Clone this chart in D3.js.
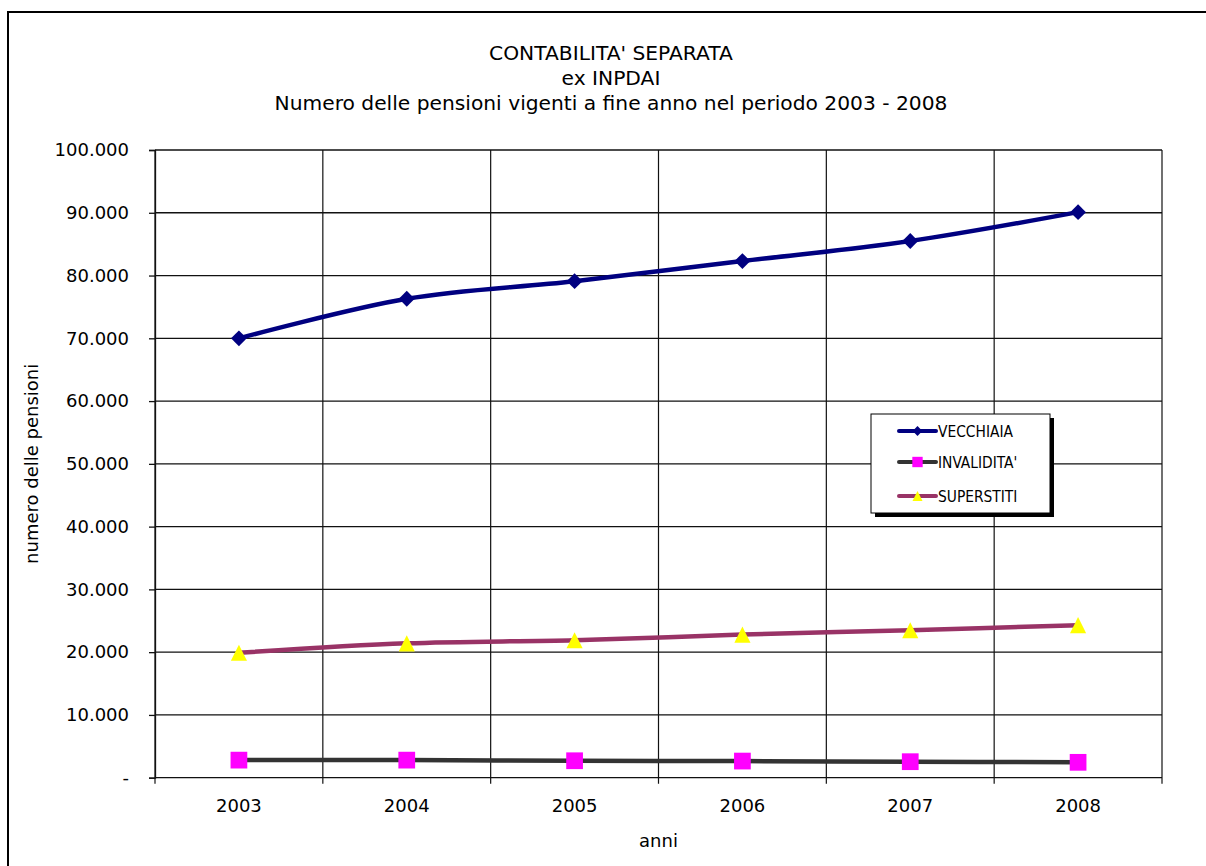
<!DOCTYPE html>
<html>
<head>
<meta charset="utf-8">
<script src="https://cdn.jsdelivr.net/npm/d3@7"></script>
<style>
  body { margin: 0; background: #fff; }
  svg { display: block; font-family: "DejaVu Sans", Verdana, sans-serif; }
</style>
</head>
<body>
<svg id="chart" width="1206" height="866"></svg>
<script>
// dati
const anni = ["2003", "2004", "2005", "2006", "2007", "2008"];
const vecchiaia = [70000, 76300, 79100, 82300, 85500, 90100];
const invalidita = [2800, 2800, 2700, 2650, 2550, 2450];
const superstiti = [19900, 21400, 21900, 22800, 23500, 24300];
const yTicks = [0, 10000, 20000, 30000, 40000, 50000, 60000, 70000, 80000, 90000, 100000];
const titolo = ["CONTABILITA' SEPARATA", "ex INPDAI",
  "Numero delle pensioni vigenti a fine anno nel periodo 2003 - 2008"];

const serie = [
  { nome: "VECCHIAIA", valori: vecchiaia, linea: "#000080", marker: "diamond", fill: "#000080" },
  { nome: "INVALIDITA'", valori: invalidita, linea: "#333333", marker: "square", fill: "#ff00ff" },
  { nome: "SUPERSTITI", valori: superstiti, linea: "#993366", marker: "triangle", fill: "#ffff00" }
];

const svg = d3.select("#chart");
const margin = { top: 150, right: 44, bottom: 88, left: 155 };
const W = 1206, H = 866;
const x0 = margin.left, x1 = W - margin.right;
const yBottom = 777.7, yTop = margin.top;

// cornice esterna
svg.append("rect")
  .attr("x", 8).attr("y", 12)
  .attr("width", 1220).attr("height", 900)
  .attr("fill", "none").attr("stroke", "#000").attr("stroke-width", 2);

// scale
const x = d3.scaleBand().domain(anni).range([x0, x1]);
const y = d3.scaleLinear().domain([0, 100000]).range([yBottom, yTop]);

// formato italiano: 10.000, zero come "-"
const it = d3.formatLocale({ decimal: ",", thousands: ".", grouping: [3], currency: ["€", ""] });
const fmt = it.format(",.0f");

// griglia orizzontale
svg.append("g").selectAll("line")
  .data(yTicks)
  .join("line")
  .attr("x1", x0).attr("x2", x1)
  .attr("y1", d => y(d)).attr("y2", d => y(d))
  .attr("stroke", "#111").attr("stroke-width", 1.3);

// griglia verticale ai bordi delle categorie
const bordi = anni.map(a => x(a)).concat([x1]);
svg.append("g").selectAll("line")
  .data(bordi)
  .join("line")
  .attr("x1", d => d).attr("x2", d => d)
  .attr("y1", yTop).attr("y2", yBottom + 6)
  .attr("stroke", "#111").attr("stroke-width", 1.2);

// asse y
const yAxis = svg.append("g")
  .attr("transform", `translate(${x0},0)`)
  .call(d3.axisLeft(y).tickValues(yTicks).tickSize(6).tickPadding(20)
    .tickFormat(d => d === 0 ? "-" : fmt(d)));
yAxis.select(".domain").attr("stroke", "#111").attr("stroke-width", 1.3);
yAxis.selectAll(".tick line").attr("stroke", "#111").attr("stroke-width", 1.3);
yAxis.selectAll("text").attr("font-size", 18).attr("fill", "#000")
  .attr("font-family", "DejaVu Sans");

// asse x (solo etichette, tacche sui bordi)
const xAxis = svg.append("g")
  .attr("transform", `translate(0,${yBottom})`)
  .call(d3.axisBottom(x).tickSize(0).tickPadding(22));
xAxis.select(".domain").remove();
xAxis.selectAll("text").attr("font-size", 18).attr("fill", "#000")
  .attr("font-family", "DejaVu Sans");

// titoli degli assi
svg.append("text")
  .attr("x", (x0 + x1) / 2).attr("y", 847)
  .attr("text-anchor", "middle").attr("font-size", 18)
  .text("anni");
svg.append("text")
  .attr("transform", `translate(38,${(yTop + yBottom) / 2}) rotate(-90)`)
  .attr("text-anchor", "middle").attr("font-size", 18)
  .text("numero delle pensioni");

// titolo
const tit = svg.append("g");
titolo.forEach((t, i) => {
  tit.append("text")
    .attr("x", 611).attr("y", 60 + i * 25)
    .attr("text-anchor", "middle")
    .attr("font-family", "DejaVu Sans")
    .attr("font-size", 18)
    .text(t);
});
// adatta la dimensione del titolo alla larghezza dell'originale
const ultima = tit.selectAll("text").nodes()[2];
const fs = 18 * 673 / ultima.getComputedTextLength();
tit.selectAll("text").attr("font-size", fs);

// marker
const triangolo = {
  draw(ctx, size) {
    const s = Math.sqrt(size);
    ctx.moveTo(0, -s / 2);
    ctx.lineTo(s / 2, s / 2);
    ctx.lineTo(-s / 2, s / 2);
    ctx.closePath();
  }
};
function simbolo(tipo, scala) {
  if (tipo === "diamond") return d3.symbol(d3.symbolSquare, 125 * scala * scala)();
  if (tipo === "square") return d3.symbol(d3.symbolSquare, 280 * scala * scala)();
  return d3.symbol(triangolo, 260 * scala * scala)();
}
function ruota(tipo) { return tipo === "diamond" ? " rotate(45)" : ""; }

// linee smussate
const linea = d3.line()
  .x((d, i) => x(anni[i]) + x.bandwidth() / 2)
  .y(d => y(d))
  .curve(d3.curveCardinal.tension(0));

serie.forEach(s => {
  svg.append("path")
    .datum(s.valori)
    .attr("d", linea)
    .attr("fill", "none")
    .attr("stroke", s.linea)
    .attr("stroke-width", 4.5);
  svg.append("g").selectAll("path")
    .data(s.valori)
    .join("path")
    .attr("d", simbolo(s.marker, 1))
    .attr("transform", (d, i) =>
      `translate(${x(anni[i]) + x.bandwidth() / 2},${y(d)})${ruota(s.marker)}`)
    .attr("fill", s.fill);
});

// legenda
const leg = svg.append("g").attr("transform", "translate(871,414)");
leg.append("rect")
  .attr("x", 4).attr("y", 4).attr("width", 179).attr("height", 99)
  .attr("fill", "#000");
leg.append("rect")
  .attr("width", 179).attr("height", 99)
  .attr("fill", "#fff").attr("stroke", "#000").attr("stroke-width", 1);
const righe = [17, 48, 82];
const testiLeg = [];
serie.forEach((s, i) => {
  const r = leg.append("g").attr("transform", `translate(0,${righe[i]})`);
  r.append("line")
    .attr("x1", 28).attr("x2", 65)
    .attr("stroke", s.linea).attr("stroke-width", 4)
    .attr("stroke-linecap", "round");
  r.append("path")
    .attr("d", simbolo(s.marker, 0.62))
    .attr("transform", `translate(46.5,0)${ruota(s.marker)}`)
    .attr("fill", s.fill);
  testiLeg.push(r.append("text")
    .attr("x", 67).attr("y", 5.5)
    .attr("font-family", "DejaVu Sans Condensed, DejaVu Sans")
    .attr("font-size", 14)
    .text(s.nome));
});
// "VECCHIAIA" largo circa 75 px nell'originale
const fsLeg = 14 * 75 / testiLeg[0].node().getComputedTextLength();
testiLeg.forEach(t => t.attr("font-size", fsLeg));
</script>
</body>
</html>
